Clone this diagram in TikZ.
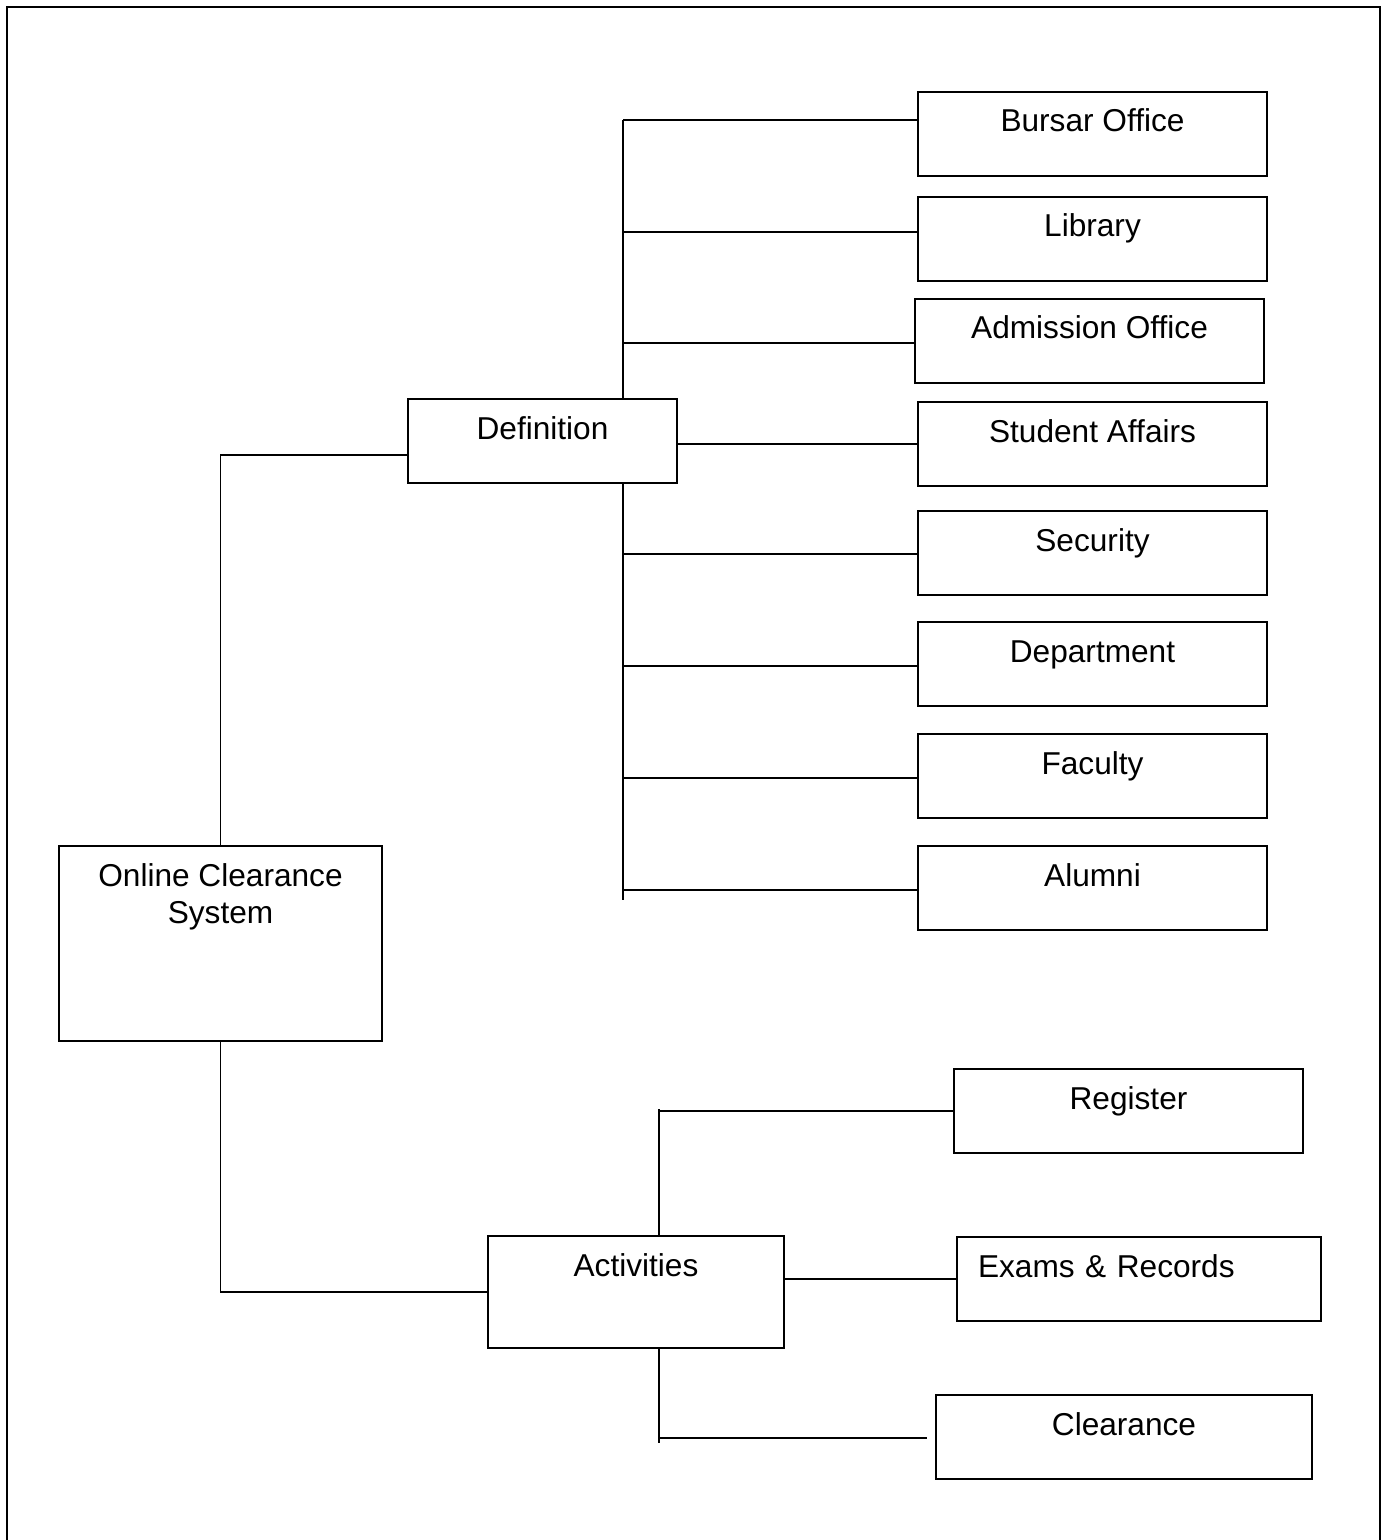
\documentclass[tikz,border=0pt]{standalone}
\usepackage{fontspec}
\setmainfont{Liberation Sans}
\tikzset{box/.style={draw, line width=1.3pt, minimum width=6.98cm, text height=0.8cm, text depth=0.88cm, inner ysep=0pt, align=center, font=\fontsize{18}{21}\selectfont}}
\begin{document}
\begin{tikzpicture}[x=0.02cm, y=-0.02cm, line width=1.1pt]
\useasboundingbox (0,0) rectangle (1386,1540);
\draw[line width=1.6pt] (7,1540) -- (7,7) -- (1380,7) -- (1380,1540);
\node[box] (bursar) at (1092.5,134){Bursar Office};
\node[box] (library) at (1092.5,239){Library};
\node[box] (admission) at (1089.5,341){Admission Office};
\node[box] (student) at (1092.5,444){Student Affairs};
\node[box] (security) at (1092.5,553){Security};
\node[box] (department) at (1092.5,664){Department};
\node[box] (faculty) at (1092.5,776){Faculty};
\node[box] (alumni) at (1092.5,888){Alumni};
\node[box, minimum width=5.38cm] (def) at (542.5,441){Definition};
\node[box, minimum width=6.46cm, text height=1.54cm, text depth=2.36cm] (ocs) at (220.5,943.5){Online Clearance\\System};
\node[box] (reg) at (1128.5,1111){Register};
\node[box, text width=6.44cm, inner xsep=0.42cm, align=left] (exams) at (1139,1279){Exams \& Records};
\node[box, minimum width=5.92cm, text depth=1.44cm] (act) at (636,1292){Activities};
\node[box, minimum width=7.52cm] (clear) at (1124,1437){Clearance};
\coordinate (d1) at (623,120);
\coordinate (d2) at (623,232);
\coordinate (d3) at (623,343);
\coordinate (d5) at (623,554);
\coordinate (d6) at (623,666);
\coordinate (d7) at (623,778);
\coordinate (d8) at (623,890);
\coordinate (dend) at (623,900);
\draw[](d1) -- (d1 |- def.north);
\draw[](d1 |- def.south) -- (dend);
\draw[](d1) -- (d1 -| bursar.west);
\draw[](d2) -- (d2 -| library.west);
\draw[](d3) -- (d3 -| admission.west);
\draw[](def.east |- student.west) -- (student.west);
\draw[](d5) -- (d5 -| security.west);
\draw[](d6) -- (d6 -| department.west);
\draw[](d7) -- (d7 -| faculty.west);
\draw[](d8) -- (d8 -| alumni.west);
\coordinate (o1) at (220.5,455);
\draw[](ocs.north) -- (o1) -- (o1 -| def.west);
\draw[](ocs.south) |- (act.west);
\coordinate (atop) at (659,1109);
\coordinate (abot) at (659,1443);
\coordinate (cend) at (927,1438);
\draw[](atop |- act.north) -- (atop);
\draw[](atop |- reg.west) -- (reg.west);
\draw[](act.east |- exams.west) -- (exams.west);
\draw[](atop |- act.south) -- (abot);
\draw[](abot |- cend) -- (cend);
\end{tikzpicture}
\end{document}
